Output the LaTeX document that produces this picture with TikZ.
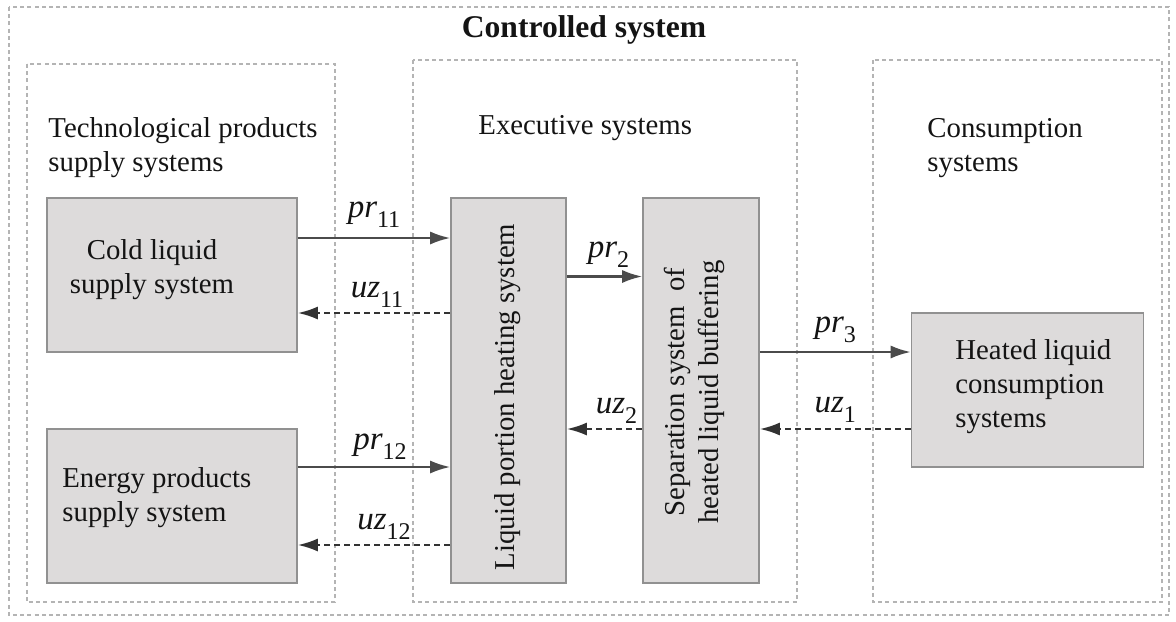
\documentclass[tikz,border=0pt]{standalone}
\usepackage{fontspec}
\setmainfont{Liberation Serif}
\usetikzlibrary{arrows.meta,calc,positioning}
\definecolor{BoxFill}{RGB}{221,219,219}
\definecolor{BoxLine}{RGB}{145,145,145}
\definecolor{FrameCol}{RGB}{180,180,180}
\definecolor{FlowCol}{RGB}{75,75,75}
\definecolor{BackCol}{RGB}{50,50,50}
\definecolor{InkCol}{RGB}{20,20,20}
\tikzset{
  csframe/.style={draw=FrameCol, line width=0.6pt, dash pattern=on 2pt off 1.6pt},
  csbox/.style={rectangle, draw=BoxLine, fill=BoxFill, line width=0.8pt, inner sep=0pt},
  cstext/.style={font=\fontsize{14.4}{17}\selectfont, text=InkCol, inner sep=0pt, align=left},
  cstitle/.style={font=\fontsize{15.8}{18}\selectfont\bfseries, text=InkCol, inner sep=0pt},
  csflow/.style={-{Latex[length=10pt,width=6.5pt]}, line width=1.1pt, draw=FlowCol},
  csback/.style={-{Latex[length=10pt,width=6.5pt]}, line width=1.1pt, draw=BackCol, dash pattern=on 3pt off 2pt},
  cslab/.style={text=InkCol, inner sep=0pt}
}
\newcommand{\FlowLab}[2]{{\fontsize{16.5}{17}\selectfont\itshape #1}\raisebox{-5pt}{\fontsize{12}{12}\selectfont #2}}

\begin{document}
\begin{tikzpicture}[x=0.5pt,y=-0.5pt]
  \useasboundingbox (0,0) rectangle (1176,621);
  % dashed frames
  \draw[csframe] (9,7) rectangle (1169,615);
  \draw[csframe] (27,64) rectangle (335,602);
  \draw[csframe] (413,60) rectangle (797,602);
  \draw[csframe] (873,60) rectangle (1162,602);
  \node[cstitle] (title) at (584,30) {Controlled system};
  \node[cstext, anchor=west] (techgrp) at (48,147.5) {Technological products\\supply systems};
  \node[cstext, anchor=west] (execgrp) at (478,128) {Executive systems};
  \node[cstext, anchor=west] (consgrp) at (927,148.5) {Consumption\\systems};
  % system boxes
  \node[csbox, minimum width=125pt, minimum height=77pt] (cold) at (172,275) {};
  \node[csbox, minimum width=125pt, minimum height=77pt] (energy) at (172,506) {};
  \node[csbox, minimum width=57.5pt, minimum height=192.5pt] (heat) at (508.5,390.5) {};
  \node[csbox, minimum width=58pt, minimum height=192.5pt] (sep) at (701,390.5) {};
  \node[csbox, minimum width=116pt, minimum height=77pt] (heated) at (1027.5,390) {};
  \node[cstext, align=center] (coldtxt) at (152,270) {Cold liquid\\supply system};
  \node[cstext, anchor=west] (energytxt) at (62,498) {Energy products\\supply system};
  \node[cstext, rotate=90] (heattxt) at (508,397) {Liquid portion heating system};
  \node[cstext, rotate=90, align=center] (septxt) at (694,392) {Separation system~ of\\heated liquid buffering};
  \node[cstext, anchor=west] (heatedtxt) at (955,387) {Heated liquid\\consumption\\systems};
  % flow points
  \path ([yshift=18.5pt]cold.east) coordinate (c1)
        ([yshift=-19pt]cold.east) coordinate (c2)
        ([yshift=19.5pt]energy.east) coordinate (e1)
        ([yshift=-19.5pt]energy.east) coordinate (e2)
        ([yshift=57pt]heat.east) coordinate (h1)
        ([yshift=19pt]heated.west) coordinate (w1)
        ([yshift=-19.5pt]heated.west) coordinate (w2);
  % direct flows and feedback
  \draw[csflow] (c1) -- (heat.west |- c1)
    node[cslab, midway, yshift=11.5pt] (pr11) {\FlowLab{pr}{11}};
  \draw[csback] (heat.west |- c2) -- (c2)
    node[cslab, midway, yshift=9pt, xshift=1.5pt] (uz11) {\FlowLab{uz}{11}};
  \draw[csflow] (e1) -- (heat.west |- e1)
    node[cslab, midway, yshift=10pt, xshift=3pt] (pr12) {\FlowLab{pr}{12}};
  \draw[csback] (heat.west |- e2) -- (e2)
    node[cslab, midway, yshift=9pt, xshift=5pt] (uz12) {\FlowLab{uz}{12}};
  \draw[csflow] (h1) -- (sep.west |- h1)
    node[cslab, midway, yshift=11pt, xshift=2pt] (pr2) {\FlowLab{pr}{2}};
  \draw[csflow] (sep.east |- w1) -- (w1)
    node[cslab, midway, yshift=11pt] (pr3) {\FlowLab{pr}{3}};
  \draw[csback] (w2) -- (sep.east |- w2)
    node[cslab, midway, yshift=9.5pt] (uz1) {\FlowLab{uz}{1}};
  \draw[csback] (sep.west |- w2) -- (heat.east |- w2)
    node[cslab, midway, yshift=9pt, xshift=6pt] (uz2) {\FlowLab{uz}{2}};
\end{tikzpicture}
\end{document}
